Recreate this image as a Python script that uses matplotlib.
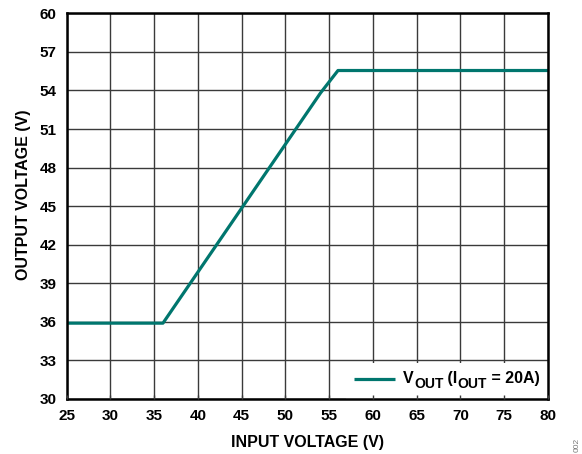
import matplotlib
matplotlib.use("Agg")
import matplotlib.pyplot as plt
from matplotlib.offsetbox import AnchoredOffsetbox, HPacker, VPacker, TextArea, DrawingArea
from matplotlib.lines import Line2D

plt.rcParams['font.family'] = ['Liberation Sans', 'DejaVu Sans']
plt.rcParams['font.weight'] = 'bold'

# Data
vin = [25, 36, 54, 56, 80]
vout = [35.9, 35.9, 53.8, 55.55, 55.55]
x_ticks = [25, 30, 35, 40, 45, 50, 55, 60, 65, 70, 75, 80]
y_ticks = [30, 33, 36, 39, 42, 45, 48, 51, 54, 57, 60]
legend_parts = [('V', False), ('OUT', True), (' (I', False), ('OUT', True), (' = 20A)', False)]

line_color = '#00766e'

fig = plt.figure(figsize=(5.82, 4.54), dpi=100)
pos = [66.7/582, 1 - 399/454, (548 - 66.7)/582, (399 - 13.3)/454]
ax = fig.add_axes(pos)

ax.plot(vin, vout, color=line_color, lw=2.3, zorder=3)

ax.set_xlim(25, 80)
ax.set_ylim(30, 60)
ax.set_xticks(x_ticks)
ax.set_yticks(y_ticks)
ax.grid(True, color='#3a3a3a', lw=1.0)
ax.set_axisbelow(True)
ax.tick_params(axis='both', length=0, labelsize=11)
ax.tick_params(axis='x', pad=7)
ax.tick_params(axis='y', pad=7.5)
for lab in ax.get_xticklabels() + ax.get_yticklabels():
    lab.set_fontweight('bold')
for s in ax.spines.values():
    s.set_linewidth(1.8)
    s.set_color('black')
    s.set_zorder(4)

ax.set_xlabel('INPUT VOLTAGE (V)', fontsize=11.5, fontweight='bold')
ax.set_ylabel('OUTPUT VOLTAGE (V)', fontsize=11.5, fontweight='bold')
ax.xaxis.set_label_coords(0.5, -0.094)
ax.yaxis.set_label_coords(-0.074, 0.529)

# legend-like box
main_props = dict(fontsize=11.5, fontweight='bold', color='black')
sub_props = dict(fontsize=10, fontweight='bold', color='black')
pieces = []
for txt, is_sub in legend_parts:
    if is_sub:
        pieces.append(VPacker(children=[DrawingArea(0, 4.0), TextArea(txt, textprops=sub_props)],
                              sep=0, pad=0, align='left'))
    else:
        pieces.append(TextArea(txt, textprops=main_props))
text_pack = HPacker(children=pieces, sep=0, pad=0, align='top')
da = DrawingArea(29, 8, 0, 0)
da.add_artist(Line2D([0, 29], [5.5, 5.5], color=line_color, lw=2.3, solid_capstyle='butt'))
packed = HPacker(children=[da, text_pack], sep=6.3, pad=0, align='center')
box = AnchoredOffsetbox(loc='lower right', child=packed, pad=0.6, borderpad=0,
                        frameon=True, prop=dict(size=10))
box.patch.set_facecolor('white')
box.patch.set_edgecolor('none')
box.set_zorder(2)
ax.add_artist(box)

# overlay axes for inward tick marks (drawn above the legend box)
ax2 = fig.add_axes(pos, sharex=ax, sharey=ax, frameon=False)
ax2.patch.set_visible(False)
ax2.tick_params(axis='both', direction='in', length=3, width=1, color='#3a3a3a',
                labelbottom=False, labelleft=False, left=False)

fig.text(577/582, 1 - 445/454, '002', rotation=90, fontsize=6, color='#777777',
         ha='center', va='center', fontweight='normal')

fig.savefig('out.png', dpi=100)
